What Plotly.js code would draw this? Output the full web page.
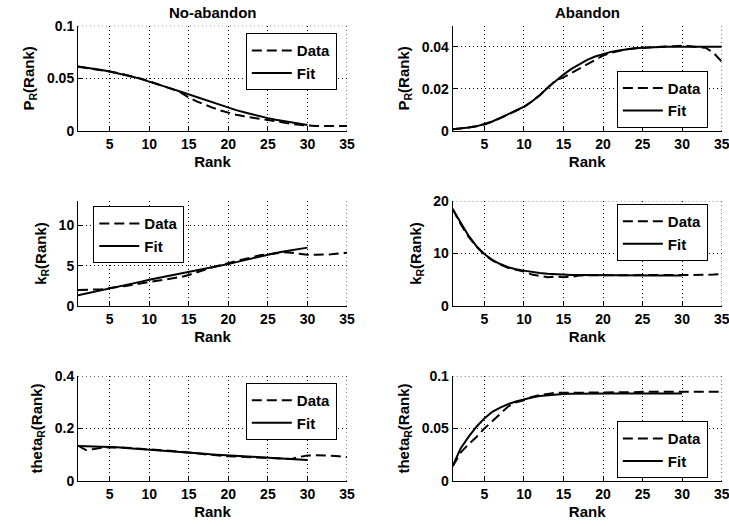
<!DOCTYPE html>
<html>
<head>
<meta charset="utf-8">
<script src="https://cdn.plot.ly/plotly-3.0.1.min.js"></script>
<style>html,body{margin:0;padding:0;background:#fff;}#chart{width:729px;height:526px;}</style>
</head>
<body>
<div id="chart"></div>
<script>
// Rank values
var rankData = [1,2,3,4,5,6,7,8,9,10,11,12,13,14,15,16,17,18,19,20,21,22,23,24,25,26,27,28,29,30,31,32,33,34,35];
var rankFit30 = [1,2,3,4,5,6,7,8,9,10,11,12,13,14,15,16,17,18,19,20,21,22,23,24,25,26,27,28,29,30];
var rankFit35 = rankData;

// No-abandon P_R
var pNoData = [0.0610,0.0600,0.0590,0.0578,0.0566,0.0552,0.0536,0.0517,0.0497,0.0473,0.0448,0.0422,0.0395,0.0365,0.0318,0.0282,0.0250,0.0222,0.0195,0.0172,0.0154,0.0139,0.0126,0.0115,0.0104,0.0092,0.0080,0.0068,0.0058,0.0050,0.0048,0.0048,0.0047,0.0047,0.0047];
var pNoFit = [0.0612,0.0603,0.0592,0.0579,0.0565,0.0550,0.0533,0.0514,0.0493,0.0471,0.0447,0.0423,0.0398,0.0373,0.0348,0.0323,0.0299,0.0275,0.0252,0.0220,0.0198,0.0178,0.0158,0.0139,0.0122,0.0106,0.0092,0.0079,0.0067,0.0057];
// Abandon P_R
var pAbData = [0.0008,0.0011,0.0016,0.0022,0.0031,0.0044,0.0060,0.0078,0.0096,0.0114,0.0140,0.0170,0.0205,0.0240,0.0255,0.0275,0.0295,0.0318,0.0338,0.0358,0.0372,0.0380,0.0388,0.0392,0.0395,0.0396,0.0398,0.0402,0.0403,0.0405,0.0403,0.0400,0.0395,0.0370,0.0330];
var pAbFit = [0.0008,0.0011,0.0016,0.0022,0.0032,0.0045,0.0062,0.0080,0.0098,0.0115,0.0140,0.0170,0.0205,0.0238,0.0268,0.0295,0.0318,0.0338,0.0354,0.0366,0.0376,0.0383,0.0389,0.0393,0.0396,0.0398,0.0399,0.0400,0.0400,0.0400,0.0400,0.0400,0.0400,0.0400,0.0400];
// No-abandon k_R
var kNoData = [2.0,2.0,2.05,2.1,2.2,2.35,2.5,2.65,2.8,2.95,3.1,3.25,3.4,3.6,3.85,4.2,4.5,4.8,5.05,5.25,5.5,5.75,6.0,6.3,6.4,6.55,6.65,6.6,6.45,6.35,6.35,6.35,6.4,6.5,6.6];
var kNoFit = [1.35,1.55,1.75,1.95,2.15,2.37,2.59,2.81,3.03,3.25,3.44,3.63,3.82,4.00,4.19,4.39,4.59,4.79,5.00,5.20,5.44,5.68,5.92,6.16,6.40,6.57,6.74,6.90,7.07,7.23];
// Abandon k_R
var kAbData = [18.5,15.6,13.2,11.3,9.8,8.7,7.9,7.3,6.9,6.6,6.0,5.8,5.5,5.6,5.5,5.6,5.8,5.85,5.85,5.85,5.85,5.85,5.85,5.85,5.85,5.85,5.85,5.85,5.85,5.85,5.9,5.9,5.95,6.0,6.1];
var kAbFit = [18.4,15.8,13.4,11.4,9.9,8.8,8.0,7.4,7.0,6.75,6.5,6.3,6.15,6.05,5.98,5.93,5.9,5.88,5.86,5.85,5.84,5.84,5.84,5.84,5.84,5.84,5.84,5.84,5.84,5.84];
// No-abandon theta_R
var tNoData = [0.135,0.118,0.122,0.127,0.128,0.128,0.127,0.125,0.123,0.122,0.119,0.116,0.114,0.111,0.109,0.106,0.102,0.099,0.096,0.094,0.093,0.092,0.091,0.089,0.088,0.087,0.086,0.084,0.092,0.097,0.098,0.098,0.096,0.094,0.091];
var tNoFit = [0.133,0.1325,0.132,0.1315,0.131,0.1285,0.126,0.1235,0.121,0.118,0.116,0.114,0.112,0.110,0.108,0.1057,0.1034,0.1011,0.0988,0.0965,0.0951,0.0937,0.0923,0.0909,0.0895,0.0877,0.0859,0.0841,0.0823,0.080];
// Abandon theta_R
var tAbData = [0.014,0.027,0.035,0.042,0.050,0.057,0.064,0.071,0.075,0.077,0.080,0.082,0.083,0.084,0.084,0.084,0.0842,0.0843,0.0844,0.0845,0.0845,0.0845,0.0846,0.0847,0.085,0.085,0.085,0.0848,0.0846,0.0845,0.0845,0.0846,0.0848,0.085,0.085];
var tAbFit = [0.0143,0.031,0.042,0.0517,0.0597,0.066,0.070,0.0733,0.0758,0.0778,0.0795,0.081,0.0818,0.0825,0.0829,0.0831,0.0833,0.0834,0.0835,0.0835,0.0835,0.0835,0.0835,0.0835,0.0835,0.0835,0.0835,0.0835,0.0835,0.0835];

var xTicks = [5,10,15,20,25,30,35];
var xRange = [1,35];
var seriesNames = ['Data','Fit'];
var colTitles = ['No-abandon','Abandon'];
var yTitles = ['P<sub>R</sub>(Rank)','k<sub>R</sub>(Rank)','theta<sub>R</sub>(Rank)'];
var yRanges = [[0,0.1],[0,0.05],[0,13],[0,20],[0,0.4],[0,0.1]];
var yTickVals = [[0,0.05,0.1],[0,0.02,0.04],[0,5,10],[0,10,20],[0,0.2,0.4],[0,0.05,0.1]];
var yTickText = [['0','0.05','0.1'],['0','0.02','0.04'],['0','5','10'],['0','10','20'],['0','0.2','0.4'],['0','0.05','0.1']];

var panels = [
  {d: pNoData, f: pNoFit, fx: rankFit30},
  {d: pAbData, f: pAbFit, fx: rankFit35},
  {d: kNoData, f: kNoFit, fx: rankFit30},
  {d: kAbData, f: kAbFit, fx: rankFit30},
  {d: tNoData, f: tNoFit, fx: rankFit30},
  {d: tAbData, f: tAbFit, fx: rankFit30}
];

var FONT = 'Arial, "Liberation Sans", sans-serif';
var GRIDDASH = '1px,3px';
var xDom = [[0.107,0.476],[0.621,0.990]];
var yDom = [[0.751,0.951],[0.418,0.618],[0.0856,0.285]];
var legendPos = [
  {x:0.462, y:0.937, xanchor:'right', yanchor:'top'},
  {x:0.971, y:0.757, xanchor:'right', yanchor:'bottom'},
  {x:0.128, y:0.608, xanchor:'left', yanchor:'top'},
  {x:0.971, y:0.612, xanchor:'right', yanchor:'top'},
  {x:0.462, y:0.272, xanchor:'right', yanchor:'top'},
  {x:0.971, y:0.091, xanchor:'right', yanchor:'bottom'}
];

var traces = [];
var layout = {
  width: 729, height: 526,
  margin: {l:0, r:0, t:0, b:0},
  paper_bgcolor: '#fff', plot_bgcolor: '#fff',
  font: {family: FONT, size: 14, color: '#000', weight: 'bold'},
  showlegend: true,
  annotations: [],
  shapes: []
};

for (var i = 0; i < 6; i++) {
  var row = Math.floor(i / 2), col = i % 2;
  var sfx = i === 0 ? '' : String(i + 1);
  var lg = i === 0 ? 'legend' : 'legend' + (i + 1);
  var p = panels[i];
  traces.push({x: rankData, y: p.d, name: seriesNames[0], type: 'scatter', mode: 'lines',
    xaxis: 'x' + sfx, yaxis: 'y' + sfx, legend: lg,
    line: {color: '#000', width: 2, dash: '10px,5px'}});
  traces.push({x: p.fx, y: p.f, name: seriesNames[1], type: 'scatter', mode: 'lines',
    xaxis: 'x' + sfx, yaxis: 'y' + sfx, legend: lg,
    line: {color: '#000', width: 2}});
  layout['xaxis' + sfx] = {
    domain: xDom[col], anchor: 'y' + sfx, range: xRange,
    tickmode: 'array', tickvals: xTicks, ticktext: xTicks.map(String),
    showgrid: true, gridcolor: '#000', griddash: GRIDDASH, gridwidth: 1,
    showline: true, linecolor: '#000', linewidth: 1, mirror: false,
    ticks: 'inside', ticklen: 4, tickcolor: '#000', zeroline: false,
    ticklabeloverflow: 'allow',
    tickfont: {family: FONT, size: 14, weight: 'bold'},
    title: {text: 'Rank', font: {family: FONT, size: 15, weight: 'bold'}, standoff: 5}
  };
  layout['yaxis' + sfx] = {
    domain: yDom[row], anchor: 'x' + sfx, range: yRanges[i],
    tickmode: 'array', tickvals: yTickVals[i], ticktext: yTickText[i],
    showgrid: true, gridcolor: '#000', griddash: GRIDDASH, gridwidth: 1,
    showline: true, linecolor: '#000', linewidth: 1, mirror: false,
    ticks: 'inside', ticklen: 4, tickcolor: '#000', zeroline: false,
    ticklabeloverflow: 'allow',
    tickfont: {family: FONT, size: 14, weight: 'bold'},
    title: {text: yTitles[row], font: {family: FONT, size: 15, weight: 'bold'}, standoff: 8}
  };
  // grid lines at the axis limits (drawn by MATLAB, skipped by Plotly)
  var lastX = xTicks[xTicks.length - 1];
  if (lastX === xRange[1]) {
    layout.shapes.push({type: 'line', layer: 'below', xref: 'x' + sfx, yref: 'y' + sfx + ' domain',
      x0: lastX, x1: lastX, y0: 0, y1: 1, line: {color: '#000', width: 1, dash: GRIDDASH}});
  }
  var yt = yTickVals[i], lastY = yt[yt.length - 1];
  if (lastY === yRanges[i][1]) {
    layout.shapes.push({type: 'line', layer: 'below', xref: 'x' + sfx + ' domain', yref: 'y' + sfx,
      x0: 0, x1: 1, y0: lastY, y1: lastY, line: {color: '#000', width: 1, dash: GRIDDASH}});
  }
  var lp = legendPos[i];
  layout[lg] = {x: lp.x, y: lp.y, xanchor: lp.xanchor, yanchor: lp.yanchor,
    xref: 'paper', yref: 'paper',
    bgcolor: '#fff', bordercolor: '#000', borderwidth: 1,
    font: {family: FONT, size: 15, weight: 'bold', color: '#000'},
    itemwidth: 40, tracegroupgap: 0};
}

for (var c = 0; c < 2; c++) {
  layout.annotations.push({text: colTitles[c], xref: 'paper', yref: 'paper',
    x: (xDom[c][0] + xDom[c][1]) / 2, y: 1, yshift: -2, xanchor: 'center', yanchor: 'top',
    showarrow: false, font: {family: FONT, size: 15, weight: 'bold', color: '#000'}});
}

Plotly.newPlot('chart', traces, layout, {displayModeBar: false, staticPlot: true});
</script>
</body>
</html>
